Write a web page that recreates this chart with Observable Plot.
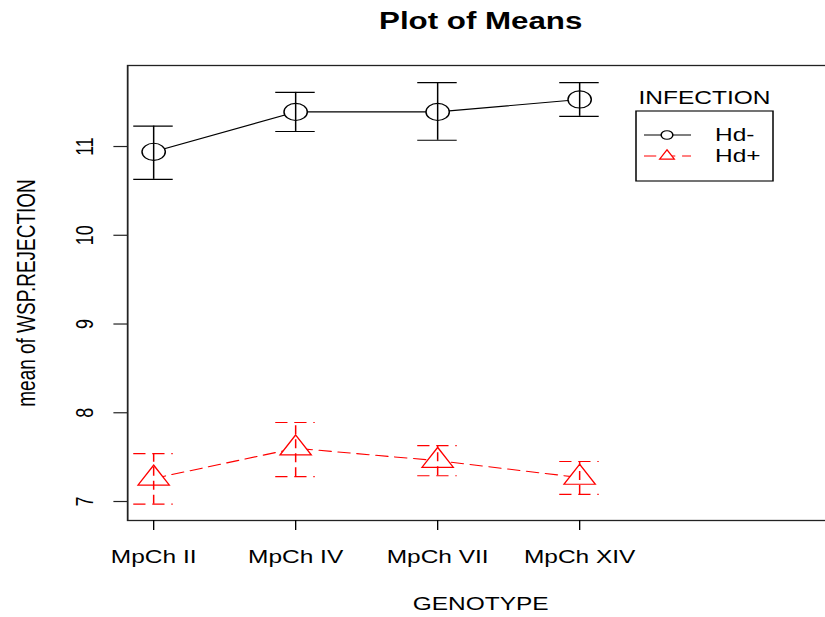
<!DOCTYPE html>
<html><head><meta charset="utf-8">
<script src="https://cdn.jsdelivr.net/npm/d3@7"></script>
<script src="https://cdn.jsdelivr.net/npm/@observablehq/plot@0.6"></script>
<style>
html,body{margin:0;padding:0;background:#fff;}
#clip{width:825px;height:617px;overflow:hidden;position:relative;background:#fff;}
#wrap{position:absolute;left:0;top:0;transform-origin:0 0;font-family:"Liberation Sans",Arial,sans-serif;}
#wrap svg{position:absolute;left:0;top:0;}
</style></head><body>
<div id="clip"><div id="wrap"></div></div>
<script>
// ---- data ----
const categories = ["MpCh II", "MpCh IV", "MpCh VII", "MpCh XIV"];
const hdMinusMean  = [10.94, 11.39, 11.39, 11.53];
const hdMinusUpper = [11.23, 11.61, 11.72, 11.72];
const hdMinusLower = [10.63, 11.17, 11.07, 11.34];
const hdPlusMean   = [7.26, 7.60, 7.46, 7.27];
const hdPlusUpper  = [7.54, 7.89, 7.63, 7.45];
const hdPlusLower  = [6.97, 7.28, 7.29, 7.08];
const seriesNames  = ["Hd-", "Hd+"];
const yTicks = [7, 8, 9, 10, 11];
const titleText = "Plot of Means";
const xLabel = "GENOTYPE";
const yLabel = "mean of WSP.REJECTION";
const legendTitle = "INFECTION";

// ---- styles ----
const S = 1.36;            // horizontal stretch of the reference picture
const W = 616, H = 617;
const FONT = '"Liberation Sans", Arial, sans-serif';
const styles = {
  "Hd-": {color: "#000000", dash: null, symbol: "circle", r: 8.57, lr: 4.3},
  "Hd+": {color: "#FF0000", dash: "9,5", symbol: "tri", r: 13.3, lr: 6.2}
};
const triSym = {draw(ctx, size) {
  const s = Math.sqrt(size / Math.PI);
  ctx.moveTo(0, -s);
  ctx.lineTo(s * Math.sqrt(3) / 2, s / 2);
  ctx.lineTo(-s * Math.sqrt(3) / 2, s / 2);
  ctx.closePath();
}};

const series = [
  {name: seriesNames[0], mean: hdMinusMean, hi: hdMinusUpper, lo: hdMinusLower},
  {name: seriesNames[1], mean: hdPlusMean, hi: hdPlusUpper, lo: hdPlusLower}
];
const capHalf = 0.139;

const seriesMarks = series.flatMap(s => {
  const st = styles[s.name];
  const data = categories.map((c, i) => ({cat: c, pos: i + 1, mean: s.mean[i], hi: s.hi[i], lo: s.lo[i]}));
  const common = {stroke: st.color, strokeWidth: 1.1, strokeDasharray: st.dash};
  return [
    Plot.line(data, {x: "pos", y: "mean", ...common}),
    Plot.dot(data, {x: "pos", y: "mean", r: st.r, symbol: st.symbol === "tri" ? triSym : "circle", fill: "white", stroke: st.color, strokeWidth: 1.1}),
    Plot.ruleX(data, {x: "pos", y1: "lo", y2: "hi", ...common}),
    Plot.ruleY(data, {y: "hi", x1: d => d.pos - capHalf, x2: d => d.pos + capHalf, ...common}),
    Plot.ruleY(data, {y: "lo", x1: d => d.pos - capHalf, x2: d => d.pos + capHalf, ...common})
  ];
});

const plot = Plot.plot({
  width: W, height: H,
  marginLeft: 127 / S, marginRight: W - 833 / S, marginTop: 65, marginBottom: 97,
  x: {domain: [0.817, 5.789], axis: null},
  y: {domain: [6.786, 11.913], axis: null},
  style: {fontFamily: FONT, fontSize: "18px", color: "#000", background: "#fff", overflow: "visible"},
  marks: [
    Plot.frame({stroke: "#222", strokeWidth: 1.3}),
    Plot.axisX({ticks: [1, 2, 3, 4], tickFormat: d => categories[d - 1], tickSize: 10, tickPadding: 20, label: null, fontSize: 18, stroke: "#000", fill: "#000"}),
    Plot.axisY({ticks: yTicks, tickSize: 10, label: null, fill: "none", stroke: "#222", strokeWidth: 1.2}),
    Plot.text(yTicks, {y: d => d, text: d => String(d), frameAnchor: "left", textAnchor: "middle", dx: 84 / S - 127 / S, rotate: -90, fontSize: 18, fill: "#000"}),
    Plot.text([titleText], {text: d => d, frameAnchor: "top", textAnchor: "middle", dy: 28 - 65, lineAnchor: "bottom", fontSize: 23, fontWeight: "bold", fill: "#000"}),
    Plot.text([xLabel], {text: d => d, frameAnchor: "bottom", textAnchor: "middle", dy: 609 - 520, lineAnchor: "bottom", fontSize: 18, fill: "#000"}),
    Plot.text([yLabel], {text: d => d, frameAnchor: "left", textAnchor: "middle", dx: 26 / S - 127 / S, rotate: -90, fontSize: 19, fill: "#000"}),
    ...seriesMarks
  ]
});

const wrap = d3.select("#wrap")
  .style("width", W + "px").style("height", H + "px")
  .style("transform", `scaleX(${S})`);
wrap.node().append(plot);

// ---- legend (overlay, same unstretched pixel space) ----
const lg = wrap.append("svg").attr("width", W).attr("height", H)
  .style("font-family", FONT).style("pointer-events", "none");
const bx = 636 / S, by = 111, bw = (773 - 636) / S, bh = 70;
lg.append("text").attr("x", bx + bw / 2).attr("y", 104).attr("text-anchor", "middle")
  .attr("font-size", 18).attr("fill", "#000").text(legendTitle);
lg.append("rect").attr("x", bx).attr("y", by).attr("width", bw).attr("height", bh)
  .attr("fill", "white").attr("stroke", "#000").attr("stroke-width", 1.1);
seriesNames.forEach((name, k) => {
  const st = styles[name];
  const cy = by + 24 + k * 21;
  const g = lg.append("g");
  g.append("line").attr("x1", 644 / S).attr("x2", 691 / S).attr("y1", cy).attr("y2", cy)
    .attr("stroke", st.color).attr("stroke-width", 1.1).attr("stroke-dasharray", st.dash);
  const mx = 667 / S;
  if (st.symbol === "circle") {
    g.append("circle").attr("cx", mx).attr("cy", cy).attr("r", st.lr)
      .attr("fill", "white").attr("stroke", st.color).attr("stroke-width", 1.1);
  } else {
    g.append("path").attr("transform", `translate(${mx},${cy})`)
      .attr("d", d3.symbol(triSym, Math.PI * st.lr * st.lr)())
      .attr("fill", "white").attr("stroke", st.color).attr("stroke-width", 1.1);
  }
  g.append("text").attr("x", 715 / S).attr("y", cy).attr("dy", "0.35em")
    .attr("font-size", 18).attr("fill", "#000").text(name);
});
</script>
</body></html>
